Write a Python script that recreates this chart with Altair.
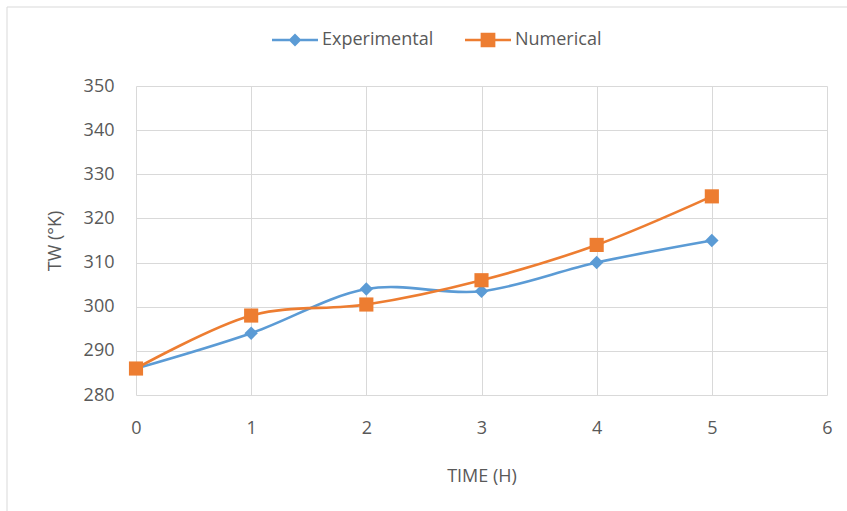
import altair as alt
import pandas as pd

# Wall temperature over time: measured vs simulated
hours = [0, 1, 2, 3, 4, 5]
experimental = [286, 294, 304, 303.5, 310, 315]
numerical = [286, 298, 300.5, 306, 314, 325]

series = ["Experimental", "Numerical"]
colors = ["#5B9BD5", "#ED7D31"]

df = pd.DataFrame(
    [{"time": h, "tw": v, "series": "Experimental"} for h, v in zip(hours, experimental)]
    + [{"time": h, "tw": v, "series": "Numerical"} for h, v in zip(hours, numerical)]
)

FONT = "Open Sans"
TEXT = "#595959"
GRID = "#d9d9d9"
SIZE = 18

# Legend glyphs: a short line with the series marker on it
EXP_GLYPH = "M-1,-0.055L1,-0.055L1,0.055L-1,0.055Z M0,-0.28L0.28,0L0,0.28L-0.28,0Z"
NUM_GLYPH = "M-1,-0.055L1,-0.055L1,0.055L-1,0.055Z M-0.32,-0.32L0.32,-0.32L0.32,0.32L-0.32,0.32Z"

legend = alt.Legend(
    title=None,
    orient="none",
    direction="horizontal",
    legendX=136,
    legendY=-69,
    padding=0,
    symbolSize=2116,
    symbolStrokeWidth=0,
    symbolOpacity=1,
    labelOffset=4,
    columnPadding=31,
    labelFont=FONT,
    labelFontSize=SIZE,
    labelColor=TEXT,
)

color_scale = alt.Scale(domain=series, range=colors)

x = alt.X(
    "time:Q",
    title="TIME (H)",
    scale=alt.Scale(domain=[0, 6], nice=False, zero=False),
    axis=alt.Axis(
        values=[0, 1, 2, 3, 4, 5, 6],
        format="d",
        grid=True,
        gridColor=GRID,
        domain=False,
        ticks=False,
        labelFlush=False,
        labelPadding=24,
        titlePadding=30,
    ),
)
y = alt.Y(
    "tw:Q",
    title="TW (°K)",
    scale=alt.Scale(domain=[280, 350], nice=False, zero=False),
    axis=alt.Axis(
        values=[280, 290, 300, 310, 320, 330, 340, 350],
        grid=True,
        gridColor=GRID,
        domain=False,
        ticks=False,
        labelFlush=False,
        labelPadding=22,
        titlePadding=19,
    ),
)

lines = alt.Chart(df).mark_line(interpolate="cardinal", strokeWidth=2.6).encode(
    x=x, y=y, color=alt.Color("series:N", scale=color_scale, legend=None)
)
points = alt.Chart(df).mark_point(filled=True, opacity=1).encode(
    x=x,
    y=y,
    color=alt.Color("series:N", scale=color_scale, legend=None),
    shape=alt.Shape("series:N", scale=alt.Scale(domain=series, range=["diamond", "square"]), legend=None),
    size=alt.Size("series:N", scale=alt.Scale(domain=series, range=[180, 200]), legend=None),
)

# Legend-only layer: draws no marks, supplies the line+marker key
key = alt.Chart(df).transform_filter("false").mark_point(filled=True, opacity=1).encode(
    color=alt.Color("series:N", scale=color_scale, legend=legend),
    shape=alt.Shape("series:N", scale=alt.Scale(domain=series, range=[EXP_GLYPH, NUM_GLYPH]), legend=legend),
)

# Outer chart frame
frame = alt.Chart(pd.DataFrame({"k": [0]})).mark_rect(
    fill=None, stroke=GRID, strokeWidth=1
).encode(
    x=alt.value(-129), x2=alt.value(740), y=alt.value(-79), y2=alt.value(460)
)

chart = (
    alt.layer(frame, lines, points, key)
    .resolve_scale(shape="independent", size="independent", color="independent")
    .properties(
        width=691,
        height=309,
        autosize=alt.AutoSizeParams(type="none"),
        padding={"left": 136, "top": 86, "right": 20, "bottom": 116},
        background="white",
    )
    .configure_view(stroke=None)
    .configure_axis(
        labelFont=FONT,
        labelFontSize=SIZE,
        labelColor=TEXT,
        titleFont=FONT,
        titleFontSize=SIZE,
        titleFontWeight="normal",
        titleColor=TEXT,
    )
)

chart.save("out.html", embed_options={"renderer": "svg", "actions": False})
